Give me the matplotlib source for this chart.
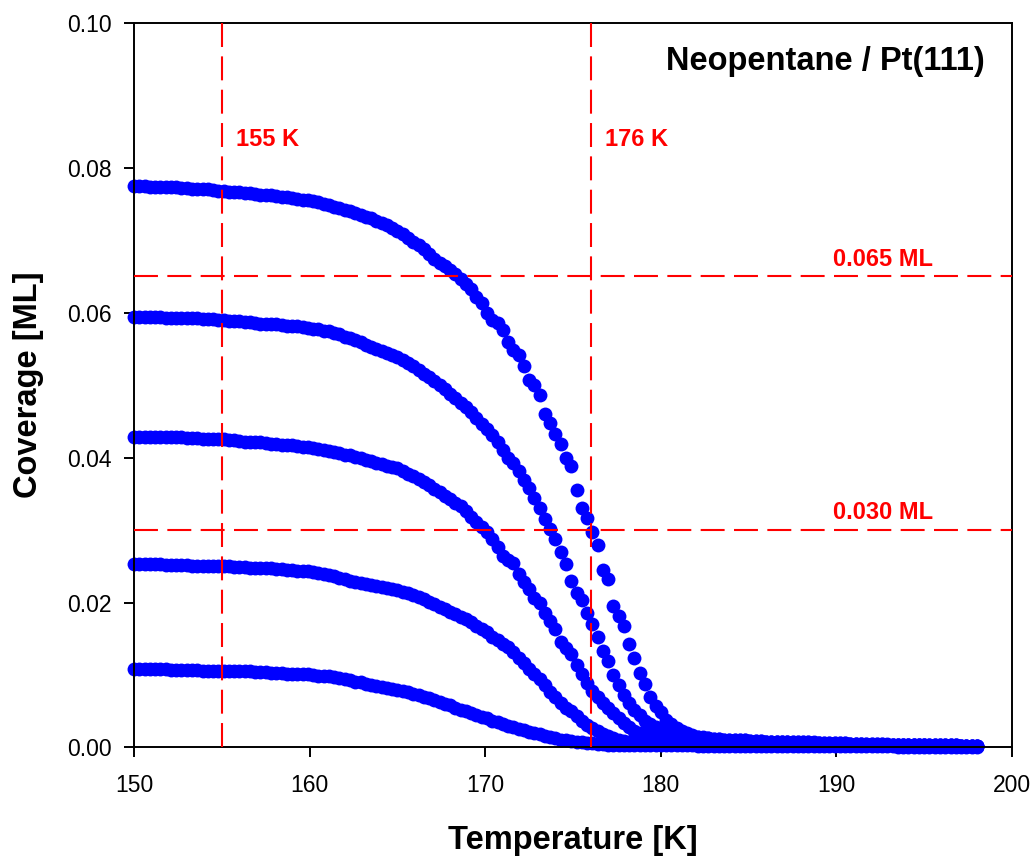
import matplotlib
matplotlib.use("Agg")
import matplotlib.pyplot as plt
from matplotlib.ticker import FormatStrFormatter

# Temperature ramp (K), shared by all five desorption runs
temperature_K = [
    150.0, 150.3, 150.6, 150.9, 151.2, 151.5, 151.8, 152.1, 152.4, 152.7,
    153.0, 153.3, 153.6, 153.9, 154.2, 154.5, 154.8, 155.1, 155.4, 155.7,
    156.0, 156.3, 156.6, 156.9, 157.2, 157.5, 157.8, 158.1, 158.4, 158.7,
    159.0, 159.3, 159.6, 159.9, 160.2, 160.5, 160.8, 161.1, 161.4, 161.7,
    162.0, 162.3, 162.6, 162.9, 163.2, 163.5, 163.8, 164.1, 164.4, 164.7,
    165.0, 165.3, 165.6, 165.9, 166.2, 166.5, 166.8, 167.1, 167.4, 167.7,
    168.0, 168.3, 168.6, 168.9, 169.2, 169.5, 169.8, 170.1, 170.4, 170.7,
    171.0, 171.3, 171.6, 171.9, 172.2, 172.5, 172.8, 173.1, 173.4, 173.7,
    174.0, 174.3, 174.6, 174.9, 175.2, 175.5, 175.8, 176.1, 176.4, 176.7,
    177.0, 177.3, 177.6, 177.9, 178.2, 178.5, 178.8, 179.1, 179.4, 179.7,
    180.0, 180.3, 180.6, 180.9, 181.2, 181.5, 181.8, 182.1, 182.4, 182.7,
    183.0, 183.3, 183.6, 183.9, 184.2, 184.5, 184.8, 185.1, 185.4, 185.7,
    186.0, 186.3, 186.6, 186.9, 187.2, 187.5, 187.8, 188.1, 188.4, 188.7,
    189.0, 189.3, 189.6, 189.9, 190.2, 190.5, 190.8, 191.1, 191.4, 191.7,
    192.0, 192.3, 192.6, 192.9, 193.2, 193.5, 193.8, 194.1, 194.4, 194.7,
    195.0, 195.3, 195.6, 195.9, 196.2, 196.5, 196.8, 197.1, 197.4, 197.7,
    198.0,
]

# Coverage (ML) for each initial dose
coverage_run1 = [
    0.0775, 0.0775, 0.0775, 0.0774, 0.0774, 0.0774, 0.0773, 0.0773, 0.0773, 0.0772,
    0.0772, 0.0771, 0.0771, 0.0770, 0.0770, 0.0769, 0.0768, 0.0768, 0.0767, 0.0766,
    0.0766, 0.0765, 0.0765, 0.0764, 0.0763, 0.0763, 0.0762, 0.0761, 0.0760, 0.0759,
    0.0758, 0.0757, 0.0756, 0.0755, 0.0754, 0.0752, 0.0750, 0.0748, 0.0746, 0.0744,
    0.0742, 0.0740, 0.0737, 0.0735, 0.0732, 0.0730, 0.0727, 0.0724, 0.0721, 0.0717,
    0.0712, 0.0708, 0.0703, 0.0698, 0.0693, 0.0688, 0.0681, 0.0674, 0.0669, 0.0664,
    0.0659, 0.0653, 0.0647, 0.0640, 0.0632, 0.0622, 0.0613, 0.0600, 0.0590, 0.0586,
    0.0576, 0.0560, 0.0549, 0.0541, 0.0527, 0.0507, 0.0500, 0.0486, 0.0460, 0.0448,
    0.0432, 0.0419, 0.0400, 0.0388, 0.0355, 0.0330, 0.0316, 0.0297, 0.0279, 0.0245,
    0.0233, 0.0195, 0.0182, 0.0168, 0.0143, 0.0123, 0.0103, 0.0087, 0.0069, 0.0057,
    0.0049, 0.0038, 0.0032, 0.0027, 0.0023, 0.0020, 0.0017, 0.0015, 0.0014, 0.0013,
    0.0012, 0.0012, 0.0011, 0.0011, 0.0010, 0.0010, 0.0010, 0.0009, 0.0009, 0.0009,
    0.0008, 0.0008, 0.0008, 0.0008, 0.0007, 0.0007, 0.0007, 0.0007, 0.0007, 0.0006,
    0.0006, 0.0006, 0.0006, 0.0006, 0.0006, 0.0006, 0.0005, 0.0005, 0.0005, 0.0005,
    0.0005, 0.0005, 0.0005, 0.0005, 0.0004, 0.0004, 0.0004, 0.0004, 0.0004, 0.0004,
    0.0004, 0.0003, 0.0003, 0.0003, 0.0003, 0.0003, 0.0003, 0.0002, 0.0002, 0.0002,
    0.0002,
]

coverage_run2 = [
    0.0594, 0.0594, 0.0594, 0.0594, 0.0594, 0.0594, 0.0593, 0.0593, 0.0593, 0.0593,
    0.0592, 0.0592, 0.0592, 0.0591, 0.0591, 0.0591, 0.0590, 0.0590, 0.0589, 0.0589,
    0.0588, 0.0587, 0.0587, 0.0586, 0.0585, 0.0585, 0.0584, 0.0584, 0.0583, 0.0582,
    0.0582, 0.0581, 0.0580, 0.0579, 0.0578, 0.0577, 0.0575, 0.0574, 0.0572, 0.0570,
    0.0567, 0.0565, 0.0562, 0.0559, 0.0556, 0.0553, 0.0550, 0.0547, 0.0544, 0.0542,
    0.0539, 0.0535, 0.0531, 0.0526, 0.0521, 0.0516, 0.0511, 0.0505, 0.0500, 0.0494,
    0.0488, 0.0482, 0.0476, 0.0470, 0.0463, 0.0455, 0.0447, 0.0439, 0.0431, 0.0421,
    0.0411, 0.0400, 0.0392, 0.0382, 0.0369, 0.0358, 0.0344, 0.0330, 0.0315, 0.0302,
    0.0288, 0.0270, 0.0253, 0.0230, 0.0213, 0.0204, 0.0186, 0.0170, 0.0152, 0.0133,
    0.0120, 0.0100, 0.0086, 0.0072, 0.0061, 0.0052, 0.0045, 0.0037, 0.0032, 0.0028,
    0.0024, 0.0022, 0.0020, 0.0018, 0.0017, 0.0016, 0.0015, 0.0014, 0.0013, 0.0013,
    0.0012, 0.0012, 0.0011, 0.0011, 0.0010, 0.0010, 0.0010, 0.0009, 0.0009, 0.0009,
    0.0008, 0.0008, 0.0008, 0.0008, 0.0008, 0.0007, 0.0007, 0.0007, 0.0007, 0.0007,
    0.0006, 0.0006, 0.0006, 0.0006, 0.0006, 0.0006, 0.0005, 0.0005, 0.0005, 0.0005,
    0.0005, 0.0005, 0.0005, 0.0004, 0.0004, 0.0004, 0.0004, 0.0004, 0.0004, 0.0004,
    0.0003, 0.0003, 0.0003, 0.0003, 0.0003, 0.0003, 0.0003, 0.0002, 0.0002, 0.0002,
    0.0002,
]

coverage_run3 = [
    0.0429, 0.0429, 0.0429, 0.0429, 0.0429, 0.0429, 0.0428, 0.0428, 0.0428, 0.0428,
    0.0427, 0.0427, 0.0427, 0.0426, 0.0426, 0.0426, 0.0425, 0.0425, 0.0424, 0.0424,
    0.0423, 0.0422, 0.0422, 0.0421, 0.0421, 0.0420, 0.0419, 0.0419, 0.0418, 0.0418,
    0.0417, 0.0416, 0.0415, 0.0414, 0.0413, 0.0412, 0.0411, 0.0409, 0.0408, 0.0406,
    0.0404, 0.0403, 0.0401, 0.0399, 0.0397, 0.0395, 0.0393, 0.0391, 0.0389, 0.0387,
    0.0385, 0.0382, 0.0378, 0.0375, 0.0371, 0.0367, 0.0362, 0.0357, 0.0352, 0.0347,
    0.0343, 0.0338, 0.0333, 0.0326, 0.0318, 0.0311, 0.0304, 0.0297, 0.0287, 0.0277,
    0.0264, 0.0259, 0.0254, 0.0240, 0.0229, 0.0218, 0.0206, 0.0199, 0.0185, 0.0175,
    0.0164, 0.0146, 0.0137, 0.0129, 0.0114, 0.0101, 0.0089, 0.0078, 0.0070, 0.0062,
    0.0055, 0.0048, 0.0041, 0.0034, 0.0028, 0.0023, 0.0020, 0.0018, 0.0017, 0.0015,
    0.0014, 0.0013, 0.0013, 0.0012, 0.0012, 0.0012, 0.0011, 0.0011, 0.0011, 0.0010,
    0.0010, 0.0010, 0.0009, 0.0009, 0.0009, 0.0009, 0.0008, 0.0008, 0.0008, 0.0008,
    0.0007, 0.0007, 0.0007, 0.0007, 0.0007, 0.0006, 0.0006, 0.0006, 0.0006, 0.0006,
    0.0006, 0.0005, 0.0005, 0.0005, 0.0005, 0.0005, 0.0005, 0.0005, 0.0005, 0.0004,
    0.0004, 0.0004, 0.0004, 0.0004, 0.0004, 0.0004, 0.0004, 0.0004, 0.0004, 0.0004,
    0.0003, 0.0003, 0.0003, 0.0003, 0.0003, 0.0003, 0.0003, 0.0002, 0.0002, 0.0002,
    0.0002,
]

coverage_run4 = [
    0.0253, 0.0253, 0.0253, 0.0253, 0.0253, 0.0253, 0.0252, 0.0252, 0.0252, 0.0252,
    0.0252, 0.0251, 0.0251, 0.0251, 0.0251, 0.0250, 0.0250, 0.0250, 0.0250, 0.0249,
    0.0249, 0.0249, 0.0248, 0.0248, 0.0248, 0.0247, 0.0247, 0.0246, 0.0246, 0.0245,
    0.0245, 0.0244, 0.0244, 0.0243, 0.0242, 0.0241, 0.0239, 0.0238, 0.0236, 0.0234,
    0.0232, 0.0230, 0.0229, 0.0227, 0.0226, 0.0224, 0.0223, 0.0221, 0.0220, 0.0219,
    0.0217, 0.0215, 0.0213, 0.0211, 0.0208, 0.0205, 0.0201, 0.0198, 0.0194, 0.0191,
    0.0187, 0.0184, 0.0180, 0.0177, 0.0173, 0.0168, 0.0164, 0.0159, 0.0153, 0.0148,
    0.0143, 0.0138, 0.0132, 0.0124, 0.0116, 0.0108, 0.0101, 0.0094, 0.0086, 0.0077,
    0.0069, 0.0062, 0.0055, 0.0050, 0.0044, 0.0036, 0.0031, 0.0027, 0.0023, 0.0019,
    0.0016, 0.0013, 0.0011, 0.0009, 0.0007, 0.0006, 0.0006, 0.0006, 0.0006, 0.0006,
    0.0006, 0.0006, 0.0006, 0.0006, 0.0006, 0.0005, 0.0005, 0.0005, 0.0005, 0.0005,
    0.0005, 0.0005, 0.0005, 0.0004, 0.0004, 0.0004, 0.0004, 0.0004, 0.0004, 0.0004,
    0.0004, 0.0004, 0.0004, 0.0004, 0.0004, 0.0004, 0.0003, 0.0003, 0.0003, 0.0003,
    0.0003, 0.0003, 0.0003, 0.0003, 0.0003, 0.0003, 0.0003, 0.0003, 0.0003, 0.0003,
    0.0003, 0.0003, 0.0003, 0.0003, 0.0003, 0.0003, 0.0003, 0.0003, 0.0003, 0.0003,
    0.0003, 0.0002, 0.0002, 0.0002, 0.0002, 0.0002, 0.0002, 0.0002, 0.0002, 0.0002,
    0.0002,
]

coverage_run5 = [
    0.0108, 0.0108, 0.0108, 0.0108, 0.0108, 0.0108, 0.0108, 0.0107, 0.0107, 0.0107,
    0.0107, 0.0107, 0.0107, 0.0106, 0.0106, 0.0106, 0.0106, 0.0106, 0.0106, 0.0105,
    0.0105, 0.0105, 0.0105, 0.0104, 0.0104, 0.0104, 0.0103, 0.0103, 0.0103, 0.0102,
    0.0102, 0.0102, 0.0101, 0.0101, 0.0100, 0.0099, 0.0099, 0.0098, 0.0097, 0.0096,
    0.0094, 0.0093, 0.0091, 0.0090, 0.0088, 0.0086, 0.0085, 0.0083, 0.0082, 0.0081,
    0.0080, 0.0078, 0.0076, 0.0074, 0.0072, 0.0070, 0.0068, 0.0066, 0.0063, 0.0060,
    0.0058, 0.0055, 0.0052, 0.0050, 0.0047, 0.0045, 0.0042, 0.0040, 0.0037, 0.0035,
    0.0033, 0.0030, 0.0028, 0.0026, 0.0024, 0.0022, 0.0020, 0.0018, 0.0016, 0.0014,
    0.0013, 0.0011, 0.0010, 0.0009, 0.0008, 0.0007, 0.0006, 0.0006, 0.0005, 0.0005,
    0.0004, 0.0004, 0.0004, 0.0003, 0.0003, 0.0003, 0.0003, 0.0003, 0.0003, 0.0003,
    0.0003, 0.0003, 0.0003, 0.0003, 0.0003, 0.0003, 0.0003, 0.0002, 0.0002, 0.0002,
    0.0002, 0.0002, 0.0002, 0.0002, 0.0002, 0.0002, 0.0002, 0.0002, 0.0002, 0.0002,
    0.0002, 0.0002, 0.0002, 0.0002, 0.0002, 0.0002, 0.0002, 0.0002, 0.0002, 0.0002,
    0.0002, 0.0002, 0.0002, 0.0002, 0.0002, 0.0002, 0.0002, 0.0002, 0.0002, 0.0002,
    0.0002, 0.0002, 0.0002, 0.0002, 0.0002, 0.0001, 0.0001, 0.0001, 0.0001, 0.0001,
    0.0001, 0.0001, 0.0001, 0.0001, 0.0001, 0.0001, 0.0001, 0.0001, 0.0001, 0.0001,
    0.0001,
]

# Reference temperatures and coverages marked with dashed guide lines
guide_temperatures = [155, 176]
guide_temperature_labels = ["155 K", "176 K"]
guide_coverages = [0.065, 0.030]
guide_coverage_labels = ["0.065 ML", "0.030 ML"]

x_ticks = [150, 160, 170, 180, 190, 200]
y_ticks = [0.00, 0.02, 0.04, 0.06, 0.08, 0.10]

plt.rcParams["font.family"] = ["Liberation Sans", "DejaVu Sans"]

fig = plt.figure(figsize=(10.35, 8.58), dpi=100)
ax = fig.add_axes([0.1295, 0.1288, 0.8483, 0.8447])

blue = "#0000ff"
red = "#ff0000"

for series in [coverage_run1, coverage_run2, coverage_run3, coverage_run4, coverage_run5]:
    ax.plot(temperature_K, series, linestyle="none", marker="o", ms=10.0,
            mfc=blue, mec=blue, mew=0, zorder=2, clip_on=False)

dash = (0, (11.5, 4.5))
for t, lab in zip(guide_temperatures, guide_temperature_labels):
    ax.axvline(t, color=red, lw=1.5, ls=dash, zorder=3)
    ax.text(t + 0.8, 0.0830, lab, color=red, fontsize=17, fontweight="bold",
            ha="left", va="baseline", zorder=4)

for c, lab in zip(guide_coverages, guide_coverage_labels):
    ax.axhline(c, color=red, lw=1.5, ls=dash, zorder=3)
    ax.text(195.5, c + 0.0015, lab, color=red, fontsize=17, fontweight="bold",
            ha="right", va="baseline", zorder=4)

ax.text(0.9692, 0.9347, "Neopentane / Pt(111)", transform=ax.transAxes,
        ha="right", va="baseline", fontsize=23.5, fontweight="bold")

ax.set_xlim(150, 200)
ax.set_ylim(0, 0.10)
ax.set_xticks(x_ticks)
ax.set_yticks(y_ticks)
ax.yaxis.set_major_formatter(FormatStrFormatter("%.2f"))
ax.tick_params(direction="out", length=7, width=1.4, labelsize=16.5,
               top=False, right=False)
ax.tick_params(axis="x", pad=12)
ax.tick_params(axis="y", pad=9)
for s in ax.spines.values():
    s.set_linewidth(1.4)

ax.set_xlabel("Temperature [K]", fontsize=23.5, fontweight="bold")
ax.xaxis.set_label_coords(0.5, -0.107)
ax.set_ylabel("Coverage [ML]", fontsize=23.5, fontweight="bold")
ax.yaxis.set_label_coords(-0.1028, 0.5)

fig.savefig("out.png", dpi=100)
